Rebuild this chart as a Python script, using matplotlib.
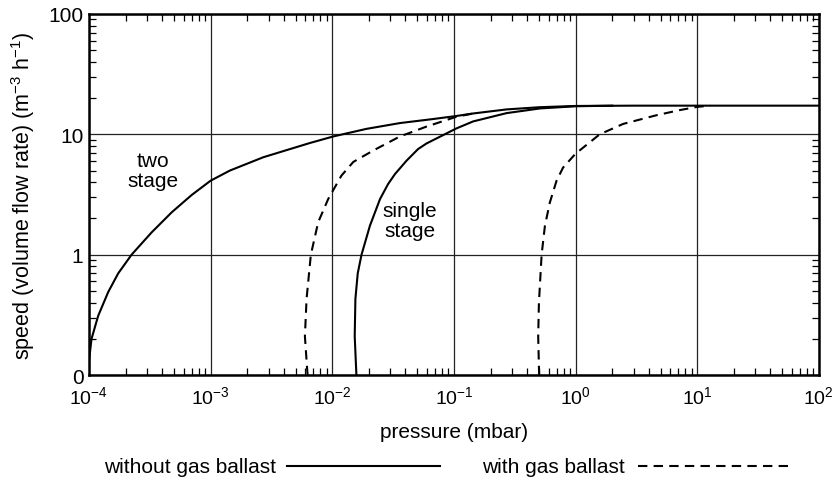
import matplotlib
matplotlib.use("Agg")
import matplotlib.pyplot as plt
from matplotlib.ticker import FixedLocator, LogLocator, NullFormatter
from matplotlib.lines import Line2D

plt.rcParams['font.family'] = ['Liberation Sans', 'DejaVu Sans']
plt.rcParams['mathtext.fontset'] = 'custom'
plt.rcParams['mathtext.rm'] = 'Liberation Sans'
plt.rcParams['mathtext.default'] = 'regular'

# two stage pump, without gas ballast
two_p = [1.0e-4, 1.05e-4, 1.19e-4, 1.44e-4, 1.74e-4, 2.24e-4, 3.27e-4, 4.79e-4,
         6.98e-4, 1.0e-3, 1.44e-3, 2.71e-3, 6.55e-3, 1.02e-2, 1.91e-2, 3.6e-2,
         6.76e-2, 0.105, 0.144, 0.271, 0.51, 1.0, 3.0, 10.0, 100.0]
two_s = [0.13, 0.20, 0.31, 0.49, 0.70, 1.0, 1.53, 2.25,
         3.13, 4.12, 5.0, 6.45, 8.47, 9.6, 11.1, 12.4,
         13.4, 14.2, 14.9, 16.1, 16.8, 17.2, 17.3, 17.3, 17.3]

# two stage pump, with gas ballast
two_gb_p = [6.27e-3, 5.96e-3, 6.15e-3, 6.67e-3, 7.66e-3, 9.26e-3, 1.19e-2,
            1.49e-2, 2.17e-2, 3.6e-2, 5.96e-2, 0.105, 0.144]
two_gb_s = [0.1, 0.21, 0.43, 1.0, 1.86, 2.9, 4.54,
            5.9, 7.33, 9.6, 11.6, 14.0, 14.9]

# single stage pump, without gas ballast
one_p = [1.58e-2, 1.53e-2, 1.55e-2, 1.62e-2, 1.74e-2, 2.04e-2, 2.47e-2, 2.88e-2,
         3.28e-2, 4.08e-2, 5.08e-2, 5.96e-2, 8.4e-2, 0.105, 0.144, 0.271,
         0.51, 1.0, 2.0]
one_s = [0.1, 0.21, 0.43, 0.7, 1.0, 1.74, 2.9, 3.87,
         4.68, 6.04, 7.55, 8.4, 10.0, 11.2, 12.8, 15.0,
         16.4, 17.1, 17.3]

# single stage pump, with gas ballast
one_gb_p = [0.502, 0.493, 0.5, 0.526, 0.56, 0.615, 0.698, 0.79, 1.0,
            1.58, 2.46, 4.62, 7.2, 10.0, 12.8]
one_gb_s = [0.1, 0.21, 0.40, 1.0, 1.74, 2.72, 4.12, 5.3, 6.9,
            10.0, 12.2, 14.4, 15.9, 16.9, 17.3]

x_ticks = [1e-4, 1e-3, 1e-2, 1e-1, 1e0, 1e1, 1e2]
x_labels = ['10$^{-4}$', '10$^{-3}$', '10$^{-2}$', '10$^{-1}$',
            '10$^{0}$', '10$^{1}$', '10$^{2}$']
y_ticks = [0.1, 1, 10, 100]
y_labels = ['0', '1', '10', '100']

fig = plt.figure(figsize=(8.39, 4.81), dpi=100)
ax = fig.add_axes([0.106, 0.218, 0.870, 0.751])

dash = (0, (4.5, 3))
ax.plot(two_p, two_s, color='black', lw=1.5)
ax.plot(one_p, one_s, color='black', lw=1.5)
ax.plot(two_gb_p, two_gb_s, color='black', lw=1.5, linestyle=dash)
ax.plot(one_gb_p, one_gb_s, color='black', lw=1.5, linestyle=dash)

ax.set_xscale('log')
ax.set_yscale('log')
ax.set_xlim(1e-4, 1e2)
ax.set_ylim(0.1, 100)

ax.xaxis.set_major_locator(FixedLocator(x_ticks))
ax.set_xticklabels(x_labels)
ax.yaxis.set_major_locator(FixedLocator(y_ticks))
ax.set_yticklabels(y_labels)
ax.xaxis.set_minor_locator(LogLocator(base=10, subs=range(2, 10), numticks=20))
ax.yaxis.set_minor_locator(LogLocator(base=10, subs=range(2, 10), numticks=20))
ax.xaxis.set_minor_formatter(NullFormatter())
ax.yaxis.set_minor_formatter(NullFormatter())

ax.tick_params(which='major', length=0)
ax.tick_params(axis='x', which='major', labelsize=14, pad=7)
ax.tick_params(axis='y', which='major', labelsize=15, pad=4)
ax.tick_params(which='minor', direction='in', length=5, width=0.9,
               top=True, right=True, bottom=True, left=True)
ax.grid(True, which='major', color='#222222', lw=0.9)
for s in ax.spines.values():
    s.set_linewidth(1.8)

ax.set_xlabel('pressure (mbar)', fontsize=15, labelpad=11)
ax.set_ylabel('speed (volume flow rate) (m$^{-3}$ h$^{-1}$)', fontsize=15.5, labelpad=8)

ax.text(3.36e-4, 5.0, 'two\nstage', ha='center', va='center', fontsize=15,
        linespacing=1.1)
ax.text(4.35e-2, 1.92, 'single\nstage', ha='center', va='center', fontsize=15,
        linespacing=1.1)

# legend row below the axes
fig.text(0.124, 0.029, 'without gas ballast', fontsize=15, va='center')
fig.add_artist(Line2D([0.342, 0.524], [0.029, 0.029], color='black', lw=1.5))
fig.text(0.575, 0.029, 'with gas ballast', fontsize=15, va='center')
fig.add_artist(Line2D([0.760, 0.942], [0.029, 0.029], color='black', lw=1.5,
                      linestyle=dash))

fig.savefig('out.png', dpi=100)
